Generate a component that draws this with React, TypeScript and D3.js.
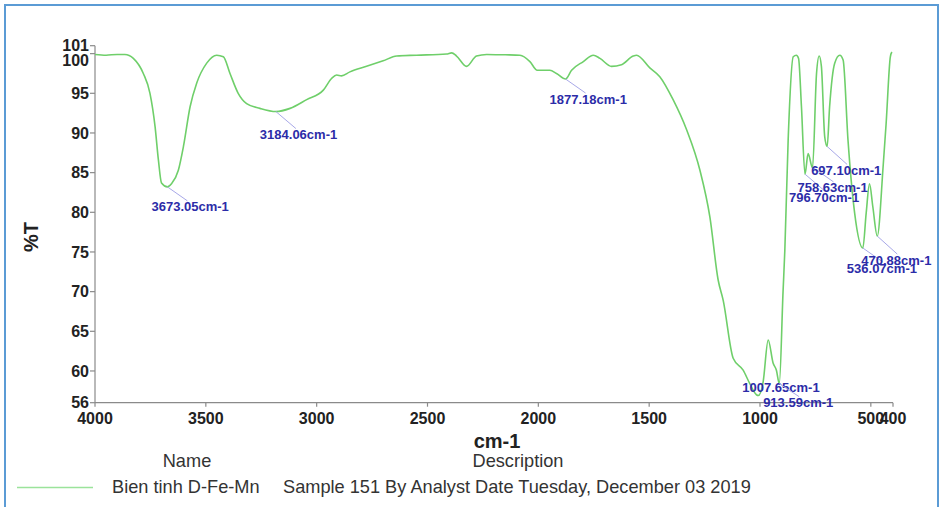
import React from 'react';
import * as d3 from 'd3';

// FTIR spectrum
const waveNumbers = [
  4000, 3950, 3900, 3865, 3827, 3782, 3752, 3729, 3714, 3700, 3673, 3655, 3624, 3601, 3571,
  3541, 3496, 3451, 3421, 3391, 3354, 3316, 3256, 3184, 3120, 3045, 2970, 2932, 2910, 2888,
  2850, 2775, 2700, 2639, 2550, 2414, 2391, 2369, 2324, 2279, 2233, 2150, 2083, 2038, 2005,
  1948, 1918, 1877, 1850, 1797, 1752, 1722, 1670, 1625, 1572, 1557, 1497, 1452, 1392, 1331,
  1271, 1226, 1189, 1166, 1121, 1076, 1046, 1016, 1008, 986, 963, 941, 926, 913, 896,
  888, 873, 850, 836, 826, 813, 797, 783, 763, 745, 733, 723, 708, 697, 686,
  663, 640, 625, 603, 573, 536, 521, 506, 491, 471, 444, 431, 412, 405,
];
const transmittance = [
  99.9, 99.8, 99.9, 99.9, 99.4, 97.5, 95.0, 90.8, 86.6, 83.7, 83.2, 83.6, 85.3, 88.3, 93.3,
  96.3, 98.8, 99.8, 99.6, 97.5, 95.0, 93.7, 93.1, 92.7, 93.1, 94.2, 95.4, 96.9, 97.3, 97.2,
  97.7, 98.4, 99.1, 99.7, 99.8, 99.95, 100.1, 99.7, 98.4, 99.7, 99.9, 99.85, 99.8, 99.0, 97.9,
  97.9, 97.5, 96.8, 97.9, 99.0, 99.8, 99.4, 98.4, 98.6, 99.7, 99.8, 98.2, 97.1, 94.2, 90.4,
  85.3, 79.4, 71.5, 68.9, 61.6, 60.1, 58.4, 57.0, 56.9, 58.6, 63.9, 61.0, 60.1, 58.4, 70.0,
  75.2, 89.1, 99.6, 99.8, 99.4, 93.3, 84.8, 87.4, 85.6, 97.5, 99.7, 98.4, 89.5, 88.3, 93.3,
  98.8, 99.8, 99.2, 89.1, 79.9, 75.5, 79.9, 83.6, 80.7, 77.0, 86.0, 91.2, 99.6, 100.2,
];

const xTicks = [4000, 3500, 3000, 2500, 2000, 1500, 1000, 500, 400];
const yTicks = [56, 60, 65, 70, 75, 80, 85, 90, 95, 100, 101];

const peakWaves = [3673.05, 3184.06, 1877.18, 1007.65, 913.59, 796.70, 758.63, 697.10, 536.07, 470.88];
const peakValues = [83.2, 92.7, 96.8, 56.9, 58.4, 84.8, 85.6, 88.3, 75.5, 77.0];

const legendName = 'Bien tinh D-Fe-Mn';
const legendDesc = 'Sample 151 By Analyst Date Tuesday, December 03 2019';

export default function App() {
  const width = 944;
  const height = 507;
  const left = 95, right = 893, top = 45.7, bottom = 402.7;

  const x = d3.scaleLinear().domain([4000, 400]).range([left, right]);
  const y = d3.scaleLinear().domain([56, 101]).range([bottom, top]);

  const data = waveNumbers.map((w, i) => ({ w, t: transmittance[i] }));
  const lineFn = d3.line<{ w: number; t: number }>()
    .x(d => x(d.w))
    .y(d => y(d.t))
    .curve(d3.curveMonotoneX);

  // label offsets (text below the peak, a little left)
  const labelDy = [20, 23, 20, -8, 19, 23, 20, 24, 20, 24];
  const font = 'Liberation Sans, Arial, sans-serif';

  return (
    <svg width={width} height={height} style={{ position: 'absolute', left: 0, top: 0, background: '#fff' }}>
      <rect x={5} y={5} width={933} height={530} fill="none" stroke="#5b9bd5" strokeWidth={2} />

      {/* axes */}
      <g stroke="#8a8a8a" strokeWidth={1.2} fill="none">
        <line x1={left} x2={left} y1={top} y2={bottom} />
        <line x1={left} x2={right} y1={bottom} y2={bottom} />
        {yTicks.map(t => <line key={t} x1={left - 5} x2={left} y1={y(t)} y2={y(t)} />)}
        {xTicks.map(t => <line key={t} x1={x(t)} x2={x(t)} y1={bottom} y2={bottom + 4} />)}
      </g>
      <g fontFamily={font} fontSize={16} fontWeight="bold" fill="#222">
        {yTicks.map(t => (
          <text key={t} x={left - 6} y={y(t) + (t === 100 ? 7 : 0)} dy="0.35em" textAnchor="end">{t}</text>
        ))}
        {xTicks.map(t => (
          <text key={t} x={x(t)} y={bottom + 16} dy="0.35em" textAnchor="middle">{t}</text>
        ))}
      </g>
      <text transform="translate(31,237) rotate(-90)" textAnchor="middle" dy="0.35em"
        fontFamily={font} fontSize={20} fontWeight="bold" fill="#222">%T</text>
      <text x={497} y={441} textAnchor="middle" dy="0.35em"
        fontFamily={font} fontSize={20} fontWeight="bold" fill="#222">cm-1</text>

      {/* spectrum */}
      <path d={lineFn(data) || ''} fill="none" stroke="#6fcf6a" strokeWidth={1.6} />

      {/* peak labels */}
      {peakWaves.map((w, i) => {
        const px = x(w);
        const py = y(peakValues[i]);
        const dy = labelDy[i];
        return (
          <g key={w}>
            {dy > 0 && (
              <line x1={px} y1={py} x2={px + 20} y2={py + dy - 6} stroke="#a8a8e8" strokeWidth={1} />
            )}
            <text x={px - 16} y={py + dy} dy="0.35em" fontFamily={font} fontSize={13}
              fontWeight="bold" fill="#2c2ca8">{w.toFixed(2)}cm-1</text>
          </g>
        );
      })}

      {/* legend */}
      <g fontFamily={font} fontSize={18.2} fill="#333">
        <text x={187} y={461} dy="0.35em" textAnchor="middle">Name</text>
        <text x={518} y={461} dy="0.35em" textAnchor="middle">Description</text>
        <line x1={17} x2={93} y1={487.5} y2={487.5} stroke="#9be39b" strokeWidth={1.4} />
        <text x={112} y={487} dy="0.35em">{legendName}</text>
        <text x={283} y={487} dy="0.35em">{legendDesc}</text>
      </g>
    </svg>
  );
}
